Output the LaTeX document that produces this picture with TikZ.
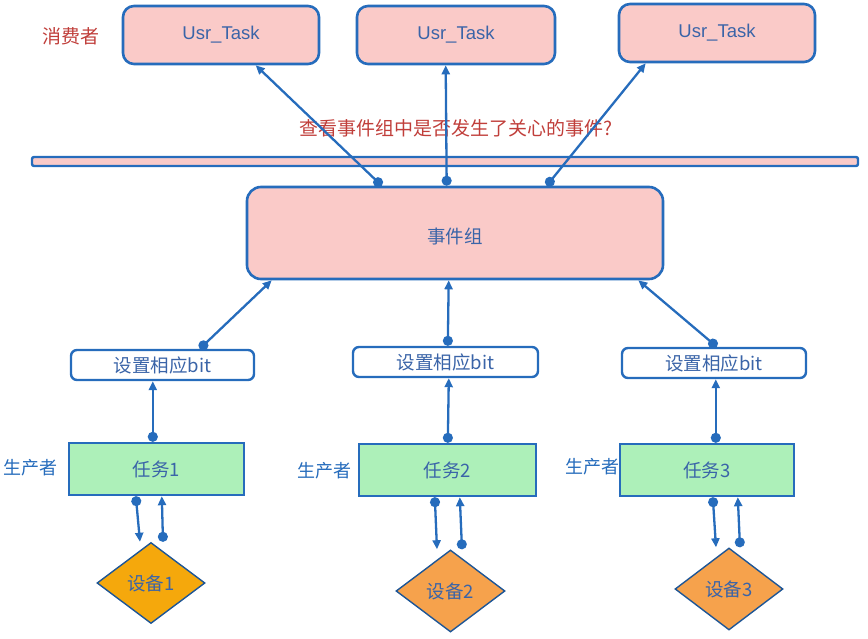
\documentclass[tikz,border=0pt]{standalone}
\usepackage{fontspec}
\setmainfont{Liberation Sans}
\newfontfamily\cjk{Noto Sans CJK SC}
\usetikzlibrary{arrows.meta,shapes.geometric}
\definecolor{lnblue}{RGB}{38,108,188}
\definecolor{txblue}{RGB}{58,100,168}
\definecolor{pinkfill}{RGB}{250,202,200}
\definecolor{greenfill}{RGB}{173,240,185}
\definecolor{orangeA}{RGB}{245,168,12}
\definecolor{orangeB}{RGB}{246,162,76}
\definecolor{redtxt}{RGB}{192,62,58}
\begin{document}
\begin{tikzpicture}[x=1pt,y=-1pt,
  usrbox/.style={draw=lnblue,line width=2.6pt,fill=pinkfill,rounded corners=11pt,minimum width=196pt,minimum height=58pt,text=txblue,font=\fontsize{18.5}{20}\selectfont},
  groupbox/.style={draw=lnblue,line width=2.6pt,fill=pinkfill,rounded corners=14pt,minimum width=416pt,minimum height=92pt,text=txblue,font=\cjk\fontsize{18.5}{20}\selectfont},
  barbox/.style={draw=lnblue,line width=2.4pt,fill=pinkfill,rounded corners=2pt,minimum width=826pt,minimum height=9pt,inner sep=0pt},
  bitbox/.style={draw=lnblue,line width=2.4pt,fill=white,rounded corners=6pt,minimum width=184pt,minimum height=30pt,inner sep=0pt,text=txblue,font=\cjk\fontsize{18.5}{20}\selectfont},
  taskbox/.style={draw=lnblue,line width=2.4pt,fill=greenfill,minimum width=176pt,minimum height=52pt,text=txblue,font=\cjk\fontsize{18.5}{20}\selectfont},
  devbox/.style={diamond,draw=lnblue!80!black,line width=1.4pt,minimum width=108pt,minimum height=81pt,inner sep=0pt,text=txblue,font=\cjk\fontsize{18.5}{20}\selectfont},
  redlabel/.style={text=redtxt,font=\cjk\fontsize{19}{21}\selectfont},
  bluelabel/.style={text=lnblue,font=\cjk\fontsize{18}{20}\selectfont},
  conn/.style={draw=lnblue,line width=2.3pt,{Circle[length=10pt]}-{Triangle[length=9pt,width=8pt]}}
]
\useasboundingbox (0,0) rectangle (868,639);

% consumers
\node[redlabel] (cons) at (71,36) {消费者};
\node[usrbox] (u1) at (221,35) {Usr\_Task};
\node[usrbox,minimum width=198pt] (u2) at (456,35) {Usr\_Task};
\node[usrbox] (u3) at (717,33) {Usr\_Task};

\node[redlabel] (q) at (456,128) {查看事件组中是否发生了关心的事件?};
\node[barbox] (bar) at (445,161.5) {};

\node[groupbox] (eg) at (455,233) {\raisebox{-5pt}[0.8em][0.2em]{事件组}};

% bit boxes
\node[bitbox,minimum width=183pt] (b1) at (162.5,365) {设置相应bit};
\node[bitbox,minimum width=185pt] (b2) at (445.5,362) {设置相应bit};
\node[bitbox] (b3) at (714,363) {设置相应bit};

% tasks
\node[taskbox,minimum width=175pt] (t1) at (156.5,469) {任务1};
\node[taskbox,minimum width=177pt] (t2) at (447.5,470) {任务2};
\node[taskbox,minimum width=174pt] (t3) at (707,470) {任务3};

\node[bluelabel] (p1) at (30,468) {生产者};
\node[bluelabel] (p2) at (324,471) {生产者};
\node[bluelabel] (p3) at (592,467) {生产者};

% devices
\node[devbox,fill=orangeA] (d1) at (151,583) {设备1};
\node[devbox,fill=orangeB,minimum width=109pt,minimum height=82pt] (d2) at (450.5,591) {设备2};
\node[devbox,fill=orangeB,minimum height=82pt] (d3) at (729,589) {设备3};

% event group -> consumers
\draw[conn] ([xshift=136pt]eg.north west) -- ([xshift=134pt]u1.south west);
\draw[conn] ([xshift=201pt]eg.north west) -- ([xshift=90pt]u2.south west);
\draw[conn] ([xshift=301pt]eg.north west) -- ([xshift=28pt]u3.south west);

% bit boxes -> event group
\draw[conn] ([xshift=130pt]b1.north west) -- ([xshift=26pt]eg.south west);
\draw[conn] ([xshift=96pt]b2.north west) -- ([xshift=203pt]eg.south west);
\draw[conn] ([xshift=96pt]b3.north west) -- ([xshift=-26pt]eg.south east);

% tasks -> bit boxes
\draw[conn] ([xshift=85pt]t1.north west) -- ([xshift=83pt]b1.south west);
\draw[conn] ([xshift=90pt]t2.north west) -- ([xshift=97pt]b2.south west);
\draw[conn] ([xshift=97pt]t3.north west) -- ([xshift=95pt]b3.south west);

% tasks <-> devices
\draw[conn] ([xshift=68pt]t1.south west) -- ([xshift=-11pt]d1.north);
\draw[conn] ([xshift=12pt]d1.north) -- ([xshift=94pt]t1.south west);
\draw[conn] ([xshift=77pt]t2.south west) -- ([xshift=-13.5pt]d2.north);
\draw[conn] ([xshift=11.5pt]d2.north) -- ([xshift=102pt]t2.south west);
\draw[conn] ([xshift=94pt]t3.south west) -- ([xshift=-13pt]d3.north);
\draw[conn] ([xshift=11pt]d3.north) -- ([xshift=119pt]t3.south west);
\end{tikzpicture}
\end{document}
